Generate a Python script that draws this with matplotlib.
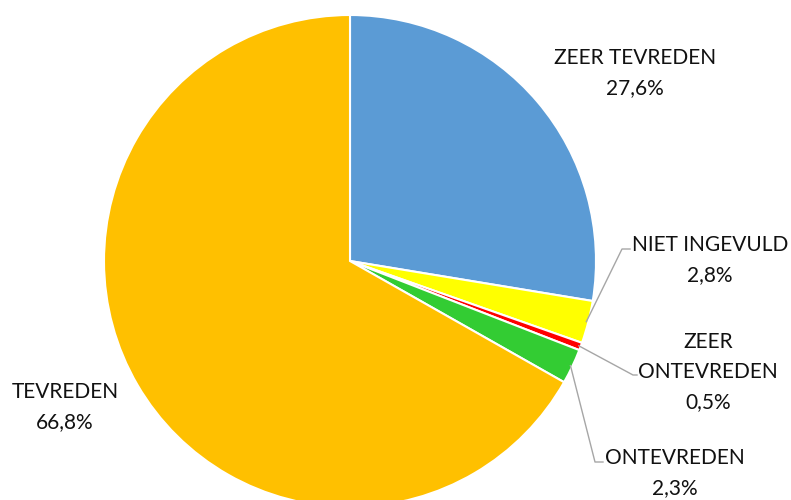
import numpy as np
import matplotlib
matplotlib.use("Agg")
import matplotlib.pyplot as plt

categories = ["ZEER TEVREDEN", "NIET INGEVULD", "ZEER\nONTEVREDEN", "ONTEVREDEN", "TEVREDEN"]
values = [27.6, 2.8, 0.5, 2.3, 66.8]
pct_labels = ["27,6%", "2,8%", "0,5%", "2,3%", "66,8%"]
colors = ["#5B9BD5", "#FFFF00", "#FF0000", "#33CC33", "#FFC000"]

W, H = 791, 500
fig = plt.figure(figsize=(W / 100, H / 100), dpi=100)
ax = fig.add_axes([0, 0, 1, 1])

cx, cy, r = 350, H - 261, 246
wedges, _ = ax.pie(values, colors=colors, startangle=90, counterclock=False,
                   center=(cx, cy), radius=r,
                   wedgeprops=dict(edgecolor="white", linewidth=1.5))
ax.set_xlim(0, W)
ax.set_ylim(0, H)
ax.set_aspect("equal")
ax.axis("off")

font = dict(family=["Lato", "DejaVu Sans"], fontsize=15, color="#111111",
            ha="center", va="center", linespacing=1.6)

# label positions (pixel, top-origin) and leader elbows
label_pos = [(635, 73), (710, 260), (708, 372), (675, 473), (65, 407)]
elbows = [None, [(622, 249), (630, 249)], [(633, 375), (637, 375)],
          [(595, 462), (603, 462)], None]

cum = 0.0
for i, (cat, v) in enumerate(zip(categories, values)):
    a0 = 90 - cum * 3.6
    cum += v
    a1 = 90 - cum * 3.6
    mid = np.deg2rad((a0 + a1) / 2)
    lx, ly = label_pos[i]
    ax.text(lx, H - ly, cat + "\n" + pct_labels[i], **font)
    if elbows[i] is not None:
        ex = cx + (r - 2) * np.cos(mid)
        ey = cy + (r - 2) * np.sin(mid)
        xs = [ex] + [p[0] for p in elbows[i]]
        ys = [ey] + [H - p[1] for p in elbows[i]]
        ax.plot(xs, ys, color="#A6A6A6", linewidth=1)

fig.savefig("out.png", dpi=100)
